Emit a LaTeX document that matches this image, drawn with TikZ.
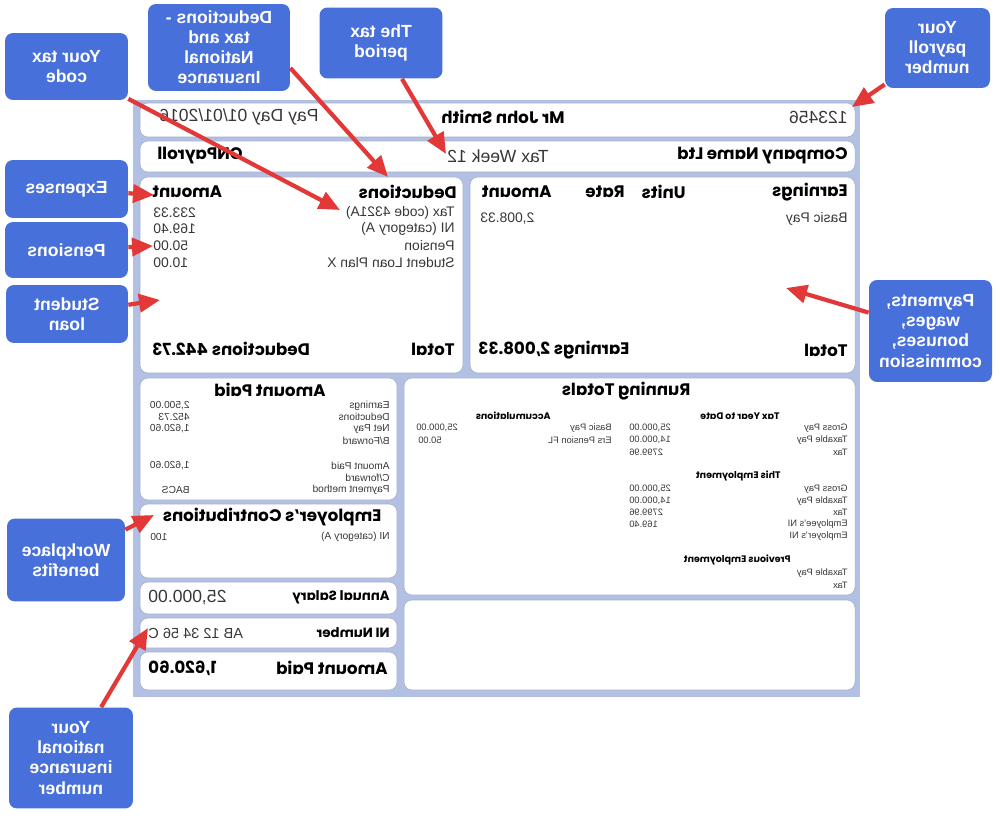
\documentclass[tikz,border=0pt]{standalone}
\usepackage{fontspec}
\setmainfont{Liberation Sans}
\newfontfamily\headfont{Poppins}
\usetikzlibrary{arrows.meta}

\definecolor{panelblue}{RGB}{178,192,228}
\definecolor{calloutblue}{RGB}{72,112,218}
\definecolor{arrowred}{RGB}{226,56,56}
\definecolor{txtgray}{RGB}{55,55,55}

\begin{document}
\begin{tikzpicture}[x=0.02cm, y=-0.02cm]
	% ----- Styles -----
	\tikzset{
		mirror/.style={xscale=-1},
		panel/.style={fill=panelblue, draw=none},
		box/.style={fill=white, draw=panelblue!70!gray, line width=0.3pt, rounded corners=0.16cm},
		lefttxt/.style={mirror, anchor=east, inner sep=0pt},
		righttxt/.style={mirror, anchor=west, inner sep=0pt},
		midtxt/.style={mirror, anchor=center, inner sep=0pt},
		head/.style={font=\headfont\bfseries\fontsize{9.5}{11}\selectfont},
		midhead/.style={font=\headfont\bfseries\fontsize{7.6}{9}\selectfont},
		subhead/.style={font=\headfont\bfseries\fontsize{5.4}{6}\selectfont},
		body/.style={font=\fontsize{10}{11}\selectfont, text=txtgray},
		rowtxt/.style={font=\fontsize{7.9}{9}\selectfont, text=txtgray},
		smalltxt/.style={font=\fontsize{5.8}{6.5}\selectfont, text=txtgray},
		tinytxt/.style={font=\fontsize{5.3}{6}\selectfont, text=txtgray},
		callout/.style={mirror, fill=calloutblue, rounded corners=0.16cm, text=white,
			align=center, inner sep=0pt, font=\bfseries\fontsize{10}{11.4}\selectfont},
		arrow/.style={draw=arrowred, line width=2.4pt, -{Triangle[length=0.42cm, width=0.36cm]}}
	}
	\useasboundingbox (0,0) rectangle (1000,820);

	% ----- Payslip panel -----
	\fill[panel] (133,100) rectangle (860,697);
	\draw[box] (140,103) rectangle (855,137);
	\draw[box] (140,141) rectangle (855,172);
	\draw[box] (140,177) rectangle (463,373);
	\draw[box] (470,177) rectangle (855,373);
	\draw[box] (140,378) rectangle (397,500);
	\draw[box] (404,378) rectangle (855,595);
	\draw[box] (140,504) rectangle (397,578);
	\draw[box] (140,582) rectangle (397,614);
	\draw[box] (140,618) rectangle (397,648);
	\draw[box] (140,652) rectangle (397,690);
	\draw[box] (404,600) rectangle (855,690);

	% header rows
	\node[lefttxt, body] (payday) at (159,117) {Pay Day 01/01/2016};
	\node[midtxt, head] (empname) at (503,117) {Mr John Smith};
	\node[righttxt, body] (payrollno) at (848,117) {123456};
	\node[lefttxt, head] (software) at (157,156) {CNPayroll};
	\node[midtxt, body] (taxweek) at (498,156) {Tax Week 12};
	\node[righttxt, head] (company) at (848,156) {Company Name Ltd};

	% deductions
	\node[righttxt, head] (dedhead) at (457,192) {Deductions};
	\node[lefttxt, head] (dedamt) at (152,192) {Amount};
	\foreach \lab/\val/\yy [count=\i] in {Tax (code 4321A)/233.33/213, NI (category A)/169.40/229,
		Pension/50.00/246, Student Loan Plan X/10.00/263}{
		\node[righttxt, rowtxt] (dlab\i) at (455,\yy) {\lab};
		\node[lefttxt, rowtxt] (dval\i) at (153,\yy) {\val};
	}
	\node[righttxt, head] (dedtotal) at (455,349) {Total};
	\node[lefttxt, head] (dedsum) at (152,349) {Deductions 442.73};

	% earnings
	\node[righttxt, head] (earnhead) at (848,192) {Earnings};
	\node[righttxt, head] (earnunits) at (686,192) {Units};
	\node[righttxt, head] (earnrate) at (625,192) {Rate};
	\node[righttxt, head] (earnamt) at (552,192) {Amount};
	\node[righttxt, rowtxt] (basicpay) at (848,219) {Basic Pay};
	\node[lefttxt, rowtxt] (basicval) at (480,219) {2,008.33};
	\node[righttxt, head] (earntotal) at (848,350) {Total};
	\node[lefttxt, head] (earnsum) at (478,350) {Earnings 2,008.33};

	% amount paid
	\node[midtxt, head] (paidhead) at (270,390) {Amount Paid};
	\node[righttxt, smalltxt] (pl1) at (390,406) {Earnings};
	\node[righttxt, smalltxt] (pl2) at (390,417) {Deductions};
	\node[righttxt, smalltxt] (pl3) at (390,429) {Net Pay};
	\node[righttxt, smalltxt] (pl4) at (390,441) {B/Forward};
	\node[righttxt, smalltxt] (pl5) at (390,466) {Amount Paid};
	\node[righttxt, smalltxt] (pl6) at (390,478) {C/forward};
	\node[righttxt, smalltxt] (pl7) at (390,490) {Payment method};
	\node[righttxt, smalltxt] (pv1) at (190,406) {2,500.00};
	\node[righttxt, smalltxt] (pv2) at (190,417) {452.73};
	\node[righttxt, smalltxt] (pv3) at (190,429) {1,620.60};
	\node[righttxt, smalltxt] (pv5) at (190,466) {1,620.60};
	\node[righttxt, smalltxt] (pv7) at (190,490) {BACS};

	% employer, salary, NI, total paid
	\node[midtxt, head] (erhead) at (272,517) {Employer’s Contributions};
	\node[righttxt, smalltxt] (erlab) at (390,537) {NI (category A)};
	\node[lefttxt, smalltxt] (erval) at (150,537) {100};
	\node[righttxt, midhead] (salhead) at (390,597) {Annual Salary};
	\node[lefttxt, body] (salval) at (148,597) {25,000.00};
	\node[righttxt, midhead] (nihead) at (390,633) {NI Number};
	\node[lefttxt, font=\fontsize{8.3}{9}\selectfont, text=txtgray] (nival) at (148,633) {AB 12 34 56 C};
	\node[righttxt, head] (totpaid) at (388,668) {Amount Paid};
	\node[lefttxt, head] (totval) at (148,668) {1,620.60};

	% running totals
	\node[midtxt, head] (runhead) at (626,391) {Running Totals};
	\node[righttxt, subhead] (ytdhead) at (780,416) {Tax Year to Date};
	\node[righttxt, subhead] (acchead) at (551,416) {Accumulations};
	\node[righttxt, subhead] (thishead) at (781,476) {This Employment};
	\node[righttxt, subhead] (prevhead) at (791,560) {Previous Employment};
	\foreach \lab/\yy [count=\i] in {Gross Pay/428, Taxable Pay/440, Tax/452, Gross Pay/489,
		Taxable Pay/501, Tax/512, Employee’s NI/524, Employer’s NI/536, Taxable Pay/573, Tax/585}{
		\node[righttxt, tinytxt] (rl\i) at (848,\yy) {\lab};
	}
	\foreach \val/\yy [count=\i] in {{25,000.00}/428, {14,000.00}/440, 2799.96/452, {25,000.00}/489,
		{14,000.00}/501, 2799.96/512, 169.40/524}{
		\node[lefttxt, tinytxt] (rv\i) at (629,\yy) {\val};
	}
	\node[righttxt, tinytxt] (acclab1) at (612,428) {Basic Pay};
	\node[righttxt, tinytxt] (acclab2) at (612,440) {Ers Pension FL};
	\node[lefttxt, tinytxt] (accval1) at (416,428) {25,000.00};
	\node[lefttxt, tinytxt] (accval2) at (418,440) {50.00};

	% ----- Callouts -----
	\node[callout, minimum width=2.46cm, minimum height=1.34cm] (calltax) at (66.5,66.5) {Your tax\\code};
	\node[callout, minimum width=2.84cm, minimum height=1.74cm] (calldeduct) at (219,47.5) {Deductions -\\tax and\\National\\Insurance};
	\node[callout, minimum width=2.46cm, minimum height=1.42cm] (callperiod) at (381,43) {The tax\\period};
	\node[callout, minimum width=2.1cm, minimum height=1.6cm] (callpayroll) at (937.5,48) {Your\\payroll\\number};
	\node[callout, minimum width=2.46cm, minimum height=1.16cm] (callexp) at (66.5,189) {Expenses};
	\node[callout, minimum width=2.46cm, minimum height=1.12cm] (callpens) at (66.5,250) {Pensions};
	\node[callout, minimum width=2.44cm, minimum height=1.16cm] (callloan) at (67,314) {Student\\loan};
	\node[callout, minimum width=2.36cm, minimum height=1.66cm] (callwork) at (66,560) {Workplace\\benefits};
	\node[callout, minimum width=2.48cm, minimum height=2.02cm] (callni) at (71,758) {Your\\national\\insurance\\number};
	\node[callout, minimum width=2.46cm, minimum height=2.04cm] (callpay) at (930.5,331) {Payments,\\wages,\\bonuses,\\commission};

	% ----- Arrows -----
	\coordinate (tiptax) at (340,210);
	\coordinate (tipdeduct) at (388,177);
	\coordinate (tipperiod) at (446,154);
	\coordinate (tippayroll) at (852,107);
	\coordinate (tipexp) at (154,195);
	\coordinate (tippens) at (153,246);
	\coordinate (tiploan) at (160,300);
	\coordinate (tipwork) at (154,515);
	\coordinate (tipni) at (148,628);
	\coordinate (tippay) at (786,288);
	\foreach \f/\t in {calltax/tiptax, calldeduct.196/tipdeduct, callperiod/tipperiod,
		callpayroll/tippayroll, callexp/tipexp, callpens/tippens, callloan/tiploan,
		callwork/tipwork, callni/tipni, callpay/tippay}{
		\draw[arrow] (\f) -- (\t);
	}
\end{tikzpicture}
\end{document}
